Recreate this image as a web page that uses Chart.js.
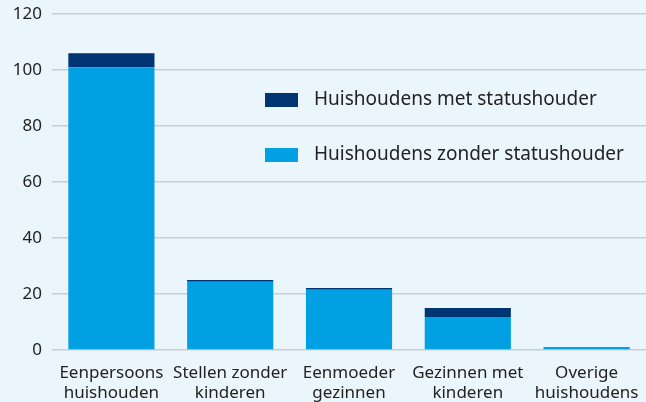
<!DOCTYPE html>
<html>
<head>
<meta charset="utf-8">
<script src="https://cdn.jsdelivr.net/npm/chart.js@4"></script>
<style>
    html, body { margin: 0; padding: 0; background: #eaf6fc; }
    #wrap { width: 646px; height: 402px; position: relative; }
</style>
</head>
<body>
<div id="wrap"><canvas id="chart"></canvas></div>
<script>
// Household categories
const categories = [
    ['Eenpersoons', 'huishouden'],
    ['Stellen zonder', 'kinderen'],
    ['Eenmoeder', 'gezinnen'],
    ['Gezinnen met', 'kinderen'],
    ['Overige', 'huishoudens']
];
const zonderStatushouder = [101, 24.4, 21.5, 11.8, 1.1];
const metStatushouder = [5, 0.6, 0.6, 3.2, 0];
const yTicks = [0, 20, 40, 60, 80, 100, 120];

const FONT = '"Noto Sans", "Open Sans", sans-serif';
const TEXT = '#222';

// Legend drawn inside the plot area, dark series first
const innerLegend = {
    id: 'innerLegend',
    afterDraw(chart) {
        const ctx = chart.ctx;
        const items = [chart.data.datasets[1], chart.data.datasets[0]];
        ctx.save();
        ctx.font = '19px ' + FONT;
        ctx.textBaseline = 'middle';
        items.forEach((ds, i) => {
            const y = 100 + i * 55;
            ctx.fillStyle = ds.backgroundColor;
            ctx.fillRect(265, y - 7, 33, 14);
            ctx.fillStyle = TEXT;
            ctx.fillText(ds.label, 314, y);
        });
        ctx.restore();
    }
};

new Chart(document.getElementById('chart'), {
    type: 'bar',
    data: {
        labels: categories,
        datasets: [
            {
                label: 'Huishoudens zonder statushouder',
                data: zonderStatushouder,
                backgroundColor: '#00a0e3',
                barPercentage: 0.725,
                categoryPercentage: 1
            },
            {
                label: 'Huishoudens met statushouder',
                data: metStatushouder,
                backgroundColor: '#003574',
                barPercentage: 0.725,
                categoryPercentage: 1
            }
        ]
    },
    options: {
        responsive: true,
        maintainAspectRatio: false,
        animation: false,
        layout: { padding: { top: 14, right: 0, left: 0, bottom: 0 } },
        plugins: {
            legend: { display: false },
            tooltip: { enabled: false }
        },
        scales: {
            x: {
                stacked: true,
                grid: { display: false },
                border: { display: false },
                afterFit: axis => { axis.height = 52; },
                ticks: {
                    color: TEXT,
                    padding: 5,
                    maxRotation: 0,
                    autoSkip: false,
                    font: { family: FONT, size: 17, lineHeight: 1.2 }
                }
            },
            y: {
                stacked: true,
                min: 0,
                max: 120,
                afterBuildTicks: axis => { axis.ticks = yTicks.map(v => ({ value: v })); },
                afterFit: axis => {
                    axis.width = 52;
                    axis.paddingTop = 0;
                    axis.paddingBottom = 0;
                },
                grid: { color: '#c9cdd0', lineWidth: 1.5, drawTicks: false },
                border: { display: false },
                ticks: {
                    color: TEXT,
                    padding: 10,
                    font: { family: FONT, size: 17 }
                }
            }
        }
    },
    plugins: [innerLegend]
});
</script>
</body>
</html>
